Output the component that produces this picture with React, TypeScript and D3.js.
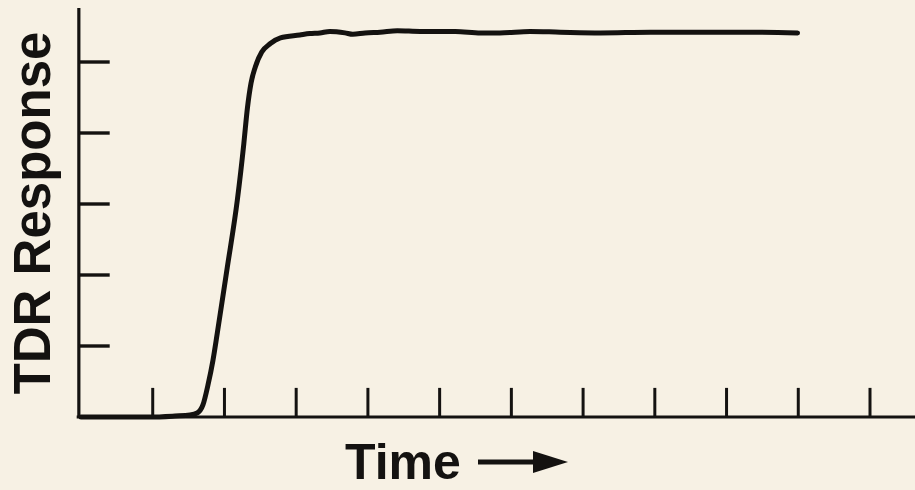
import React from "react";
import * as d3 from "d3";

const timeValues: number[] = [0, 0.96, 1.31, 1.52, 1.62, 1.70, 1.77, 1.84, 1.90, 2.04, 2.18, 2.27, 2.32, 2.37, 2.43, 2.52, 2.64, 2.78, 3.05, 3.19, 3.33, 3.47, 3.68, 3.79, 3.96, 4.17, 4.41, 4.73, 5.22, 5.57, 5.84, 6.26, 6.68, 7.24, 7.94, 8.63, 9.33, 9.99];
const responseValues: number[] = [0, 0, 0.014, 0.028, 0.056, 0.17, 0.45, 0.80, 1.18, 2.11, 3.06, 3.85, 4.35, 4.70, 4.93, 5.14, 5.26, 5.34, 5.38, 5.40, 5.41, 5.43, 5.41, 5.39, 5.41, 5.42, 5.44, 5.43, 5.43, 5.41, 5.41, 5.43, 5.42, 5.41, 5.42, 5.42, 5.42, 5.41];
const xTicks: number[] = [1, 2, 3, 4, 5, 6, 7, 8, 9, 10, 11];
const yTicks: number[] = [1, 2, 3, 4, 5];
const yLabel = "TDR Response";
const xLabel = "Time";

export default function App() {
  const W = 915, H = 490;
  const x = d3.scaleLinear().domain([0, 11]).range([81, 870]);
  const y = d3.scaleLinear().domain([0, 5]).range([417, 62]);
  const ink = "#141210";
  const font = "'Liberation Sans', Arial, Helvetica, sans-serif";
  const pts = timeValues.map((t, i) => [t, responseValues[i]] as [number, number]);
  const line = d3.line<[number, number]>().x(d => x(d[0])).y(d => y(d[1])).curve(d3.curveMonotoneX);

  return (
    <svg width={W} height={H} style={{ position: "fixed", left: 0, top: 0, background: "#f7f1e4" }}>
      <rect x={0} y={0} width={W} height={H} fill="#f7f1e4" />
      {/* y axis */}
      <line x1={x(-0.03)} x2={x(-0.03)} y1={y(0)} y2={y(5.76)} stroke={ink} strokeWidth={3.2} />
      {yTicks.map(t => (
        <line key={t} x1={x(-0.03)} x2={x(0.4)} y1={y(t)} y2={y(t)} stroke={ink} strokeWidth={3.4} />
      ))}
      {/* x axis */}
      <line x1={x(-0.06)} x2={W} y1={y(0)} y2={y(0)} stroke={ink} strokeWidth={3.2} />
      {xTicks.map(t => (
        <line key={t} x1={x(t)} x2={x(t)} y1={y(0)} y2={y(0.41)} stroke={ink} strokeWidth={3} />
      ))}
      {/* curve */}
      <path d={line(pts) || ""} fill="none" stroke={ink} strokeWidth={5} strokeLinejoin="round" strokeLinecap="round" />
      {/* labels */}
      <text transform={`translate(50, 213) rotate(-90)`} textAnchor="middle" fontFamily={font} fontWeight="bold" fontSize={51} fill={ink}>{yLabel}</text>
      <text x={345} y={479} fontFamily={font} fontWeight="bold" fontSize={50} fill={ink}>{xLabel}</text>
      <line x1={478} x2={540} y1={462} y2={462} stroke={ink} strokeWidth={5} />
      <path d="M 533 451 L 568 462 L 533 473 Z" fill={ink} />
    </svg>
  );
}
